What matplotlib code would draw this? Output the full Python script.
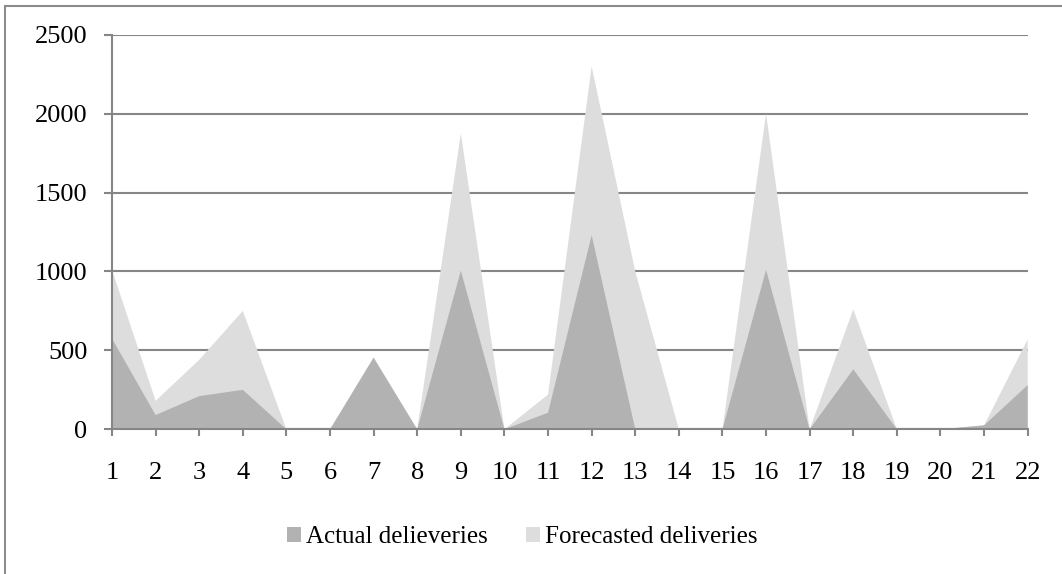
import matplotlib
matplotlib.use("Agg")
import matplotlib.pyplot as plt
from matplotlib.patches import Rectangle, Patch

# values
days = list(range(1, 23))
actual = [575, 90, 210, 250, 0, 0, 455, 0, 1005, 0, 105,
          1230, 0, 0, 0, 1010, 0, 380, 0, 0, 25, 280]
forecast = [1010, 180, 440, 750, 0, 0, 0, 0, 1875, 0, 220,
            2300, 1000, 0, 0, 2000, 0, 760, 0, 0, 25, 570]
yticks = [0, 500, 1000, 1500, 2000, 2500]
labels = ["Actual delieveries", "Forecasted deliveries"]

dark = "#b2b2b2"
light = "#dddddd"
axis_grey = "#868686"

plt.rcParams['font.family'] = ['Liberation Serif', 'DejaVu Serif']

fig = plt.figure(figsize=(10.62, 5.74), dpi=100)
ax = fig.add_axes([112/1062, 1 - 429.3/574, (1027.7-112)/1062, (429.3-34.7)/574])

# forecast behind, actual in front
ax.fill_between(days, forecast, 0, facecolor=light, edgecolor="none", zorder=2)
ax.fill_between(days, actual, 0, facecolor=dark, edgecolor="none", zorder=3)

ax.set_xlim(1, 22)
ax.set_ylim(0, 2500)
ax.set_xticks(days)
ax.set_yticks(yticks)
ax.yaxis.grid(True, color=axis_grey, linewidth=1.5, zorder=1)
ax.set_axisbelow(True)

for s in ["top", "right"]:
    ax.spines[s].set_visible(False)
for s in ["left", "bottom"]:
    ax.spines[s].set_color(axis_grey)
    ax.spines[s].set_linewidth(1.5)
    ax.spines[s].set_zorder(4)

ax.tick_params(axis="x", length=5, width=1.5, color=axis_grey, pad=18.5, labelsize=19)
ax.tick_params(axis="y", length=5.8, width=1.5, color=axis_grey, pad=12, labelsize=19)

# outer chart border (runs off the right and bottom of the picture)
fig.patches.append(Rectangle((4.5/1062, -0.05), 1.2, 1 - 5.5/574 + 0.05,
                             transform=fig.transFigure, fill=False,
                             edgecolor="#8c8c8c", linewidth=1.5, clip_on=False))

handles = [Patch(facecolor=dark, edgecolor="none"), Patch(facecolor=light, edgecolor="none")]
fig.legend(handles, labels, loc="center", bbox_to_anchor=(522/1062, 1 - 537/574),
           ncol=2, frameon=False, fontsize=18, handlelength=0.56, handleheight=0.56,
           handletextpad=0.2, columnspacing=1.55, borderpad=0)

fig.savefig("out.png", dpi=100)
